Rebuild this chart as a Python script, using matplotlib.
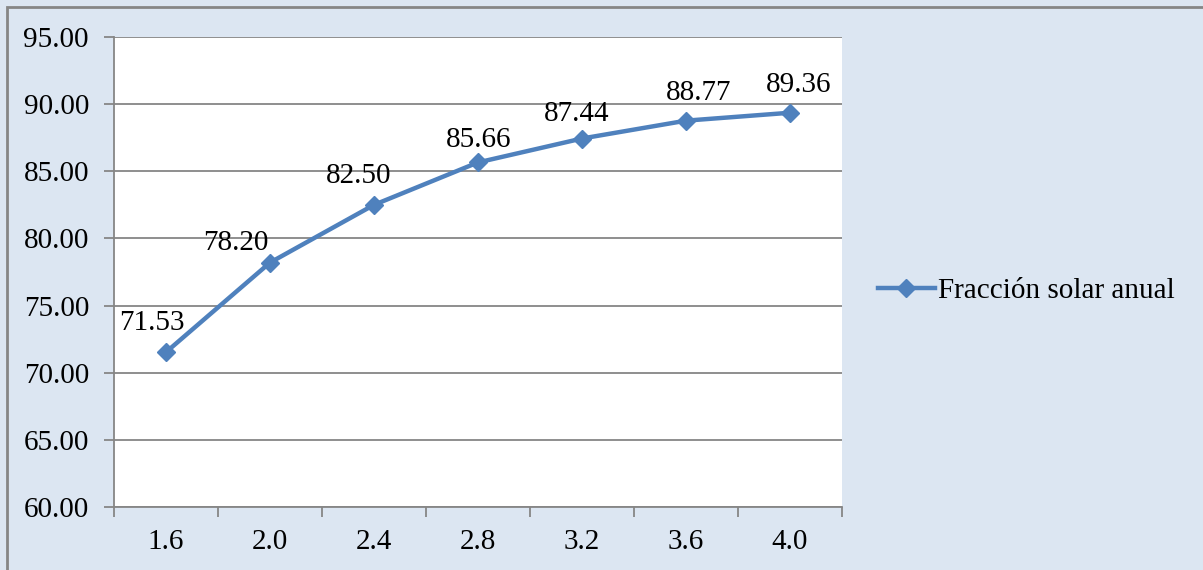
import matplotlib
matplotlib.use("Agg")
import matplotlib.pyplot as plt
from matplotlib.lines import Line2D
from matplotlib.patches import Rectangle

categories = ["1.6", "2.0", "2.4", "2.8", "3.2", "3.6", "4.0"]
values = [71.53, 78.20, 82.50, 85.66, 87.44, 88.77, 89.36]
series_name = "Fracción solar anual"
yticks = [60, 65, 70, 75, 80, 85, 90, 95]

# label offsets in pixels (style only): horizontal center shift, baseline rise
label_dx = [-14, -34, -15, 1, -5, 13, 9]
label_dy = [22, 13, 22, 15, 18, 21, 21]

W, H = 1203, 570
FS = 21
plt.rcParams['font.family'] = ['Liberation Serif', 'DejaVu Serif']
fig = plt.figure(figsize=(W / 100, H / 100), dpi=100)
bg = "#dce6f2"
fig.patch.set_facecolor(bg)

# outer border
fig.add_artist(Rectangle((7 / W, -0.05), 1.2, (H - 7) / H + 0.05, transform=fig.transFigure,
                         fill=False, edgecolor="#868686", linewidth=2))

ax = fig.add_axes([114 / W, (H - 507) / H, (842 - 114) / W, (507 - 37) / H])
ax.set_facecolor("white")
line_color = "#4f81bd"
grid_color = "#868686"

x = list(range(len(categories)))
ax.plot(x, values, color=line_color, linewidth=3.2, marker="D", markersize=9.5,
        markerfacecolor=line_color, markeredgecolor=line_color, solid_capstyle="round",
        zorder=3, clip_on=False)

for xi, v, dx, dy in zip(x, values, label_dx, label_dy):
    ax.annotate(f"{v:.2f}", (xi, v), xytext=(dx * 0.72, dy * 0.72), textcoords="offset points",
                ha="center", va="baseline", fontsize=FS, color="black", zorder=4)

ax.set_xlim(-0.5, len(categories) - 0.5)
ax.set_ylim(60, 95)
ax.set_yticks(yticks)
ax.set_yticklabels([f"{t:.2f}" for t in yticks])
ax.yaxis.grid(True, color=grid_color, linewidth=1.3)
ax.set_axisbelow(True)

ax.set_xticks(x)
ax.set_xticklabels(categories)
ax.set_xticks([i - 0.5 for i in range(len(categories) + 1)], minor=True)
ax.tick_params(axis="x", which="major", length=0, pad=16, labelsize=FS)
ax.tick_params(axis="x", which="minor", length=7, width=1.3, color=grid_color, direction="out")
ax.tick_params(axis="y", length=7, width=1.3, color=grid_color, labelsize=FS, pad=11)

for s in ["top", "right"]:
    ax.spines[s].set_visible(False)
for s in ["left", "bottom"]:
    ax.spines[s].set_color(grid_color)
    ax.spines[s].set_linewidth(1.3)

handle = Line2D([], [], color=line_color, linewidth=3.2, marker="D", markersize=9.5,
                markerfacecolor=line_color, markeredgecolor=line_color)
leg = fig.legend([handle], [series_name], loc="center left",
                 bbox_to_anchor=(878 / W, (H - 291) / H), frameon=False, fontsize=FS,
                 handlelength=1.95, handletextpad=0.1, borderaxespad=0, borderpad=0)

fig.savefig("out.png", dpi=100, facecolor=bg)
